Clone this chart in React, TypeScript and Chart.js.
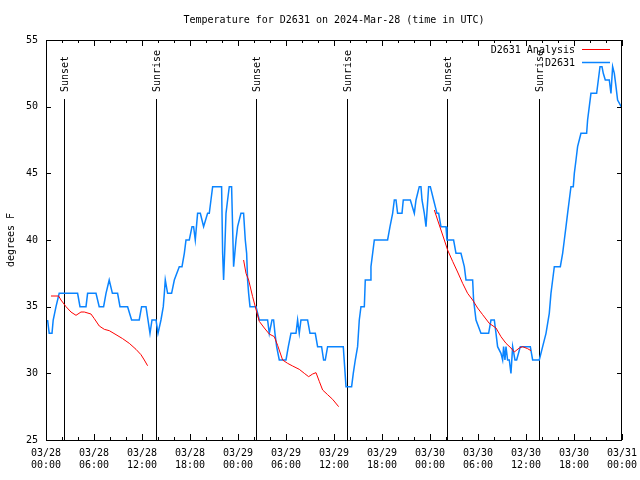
import React, { useEffect, useRef } from 'react';
import { Chart, registerables } from 'chart.js';

Chart.register(...registerables);

const FONT = "'DejaVu Sans Mono', monospace";

const TITLE = 'Temperature for D2631 on 2024-Mar-28 (time in UTC)';
const Y_TITLE = 'degrees F';
const START_DAY = 28;

const seriesNames = ['D2631 Analysis', 'D2631'];
const seriesColors = ['#ff0000', '#0a84ff'];

// hours since 03/28 00:00 UTC
const eventHours = [2.25, 13.75, 26.25, 37.625, 50.125, 61.625];
const eventLabels = ['Sunset', 'Sunrise', 'Sunset', 'Sunrise', 'Sunset', 'Sunrise'];

const stationHours = [
  0.2, 0.4, 0.75, 0.9, 1.25, 1.65, 3.95, 4.25, 5.0, 5.2, 6.25, 6.65, 7.2, 7.5, 7.9, 8.3, 8.95, 9.25, 10.2, 10.7,
  11.65, 11.95, 12.5, 13.0, 13.25, 13.75, 14.0, 14.37, 14.66, 14.79, 14.91, 15.2, 15.7, 16.04, 16.66, 17.0, 17.29,
  17.5, 17.91, 18.25, 18.45, 18.66, 18.95, 19.29, 19.7, 20.2, 20.41, 20.62, 20.83, 21.95, 22.08, 22.2, 22.33, 22.5,
  22.7, 22.91, 23.2, 23.45, 23.6, 23.75, 23.95, 24.37, 24.7, 24.91, 25.08, 25.2, 25.33, 25.5, 26.25, 26.66, 27.7,
  27.91, 28.25, 28.45, 28.62, 28.83, 29.16, 30.0, 30.29, 30.62, 31.25, 31.45, 31.66, 31.87, 32.7, 33.0, 33.66,
  33.95, 34.45, 34.7, 34.91, 35.2, 37.16, 37.5, 38.2, 38.41, 38.66, 38.95, 39.16, 39.37, 39.79, 39.91, 40.5, 40.62,
  40.83, 41.04, 42.7, 43.0, 43.33, 43.54, 43.75, 43.95, 44.5, 44.66, 45.54, 46.04, 46.25, 46.66, 46.87, 47.0, 47.29,
  47.5, 47.83, 48.04, 48.45, 48.87, 49.08, 49.37, 50.0, 50.12, 50.95, 51.25, 51.87, 52.29, 52.5, 53.33, 53.45,
  53.75, 54.37, 55.33, 55.62, 56.04, 56.25, 56.45, 56.87, 57.08, 57.2, 57.37, 57.5, 57.7, 57.91, 58.12, 58.33,
  58.62, 58.83, 59.29, 60.54, 60.83, 61.66, 62.08, 62.5, 62.91, 63.12, 63.33, 63.54, 64.29, 64.58, 64.79, 65.0,
  65.2, 65.41, 65.62, 65.91, 66.04, 66.25, 66.45, 66.87, 67.58, 67.7, 67.91, 68.12, 68.83, 69.04, 69.25, 69.5,
  69.66, 69.91, 70.41, 70.62, 70.83, 71.04, 71.25, 71.45, 71.9,
];
const stationTemps = [
  34, 33, 33, 34, 35, 36, 36, 35, 35, 36, 36, 35, 35, 36, 37, 36, 36, 35, 35, 34,
  34, 35, 35, 33, 34, 34, 33, 34, 35, 36, 37, 36, 36, 37, 38, 38, 39,
  40, 40, 41, 41, 40, 42, 42, 41, 42, 42, 43, 44, 44, 39, 37, 39, 42,
  43, 44, 44, 38, 39, 40, 41, 42, 42, 40, 39, 37, 36, 35, 35, 34, 34,
  33, 34, 34, 33, 32, 31, 31, 32, 33, 33, 34, 33, 34, 34, 33, 33,
  32, 32, 31, 31, 32, 32, 29, 29, 30, 31, 32, 34, 35, 35, 37, 37, 38,
  39, 40, 40, 41, 42, 43, 43, 42, 42, 43, 43, 42, 43, 44, 44, 43, 42,
  41, 44, 44, 43, 42, 42, 41, 41, 40, 40, 39, 39, 38, 37, 37, 35.5,
  34, 33, 33, 34, 34, 33, 32, 31.5, 31, 32, 31, 32, 31, 31, 30, 32,
  31, 31, 32, 32, 31, 31, 32, 33, 34.5, 36, 37, 38, 38, 39, 40, 41,
  42, 43, 44, 44, 45, 46, 47, 48, 48, 49, 50, 51, 51, 52, 53, 53,
  52.5, 52, 52, 51, 53, 52.5, 51.5, 50.5, 50,
];

const analysisHours = [
  0.62, 1.58, 1.87, 2.5, 3.12, 3.75, 4.37, 4.79, 5.62, 6.04, 6.66, 7.29, 7.91, 8.75, 9.58, 10.41, 11.25, 11.87, 12.29, 12.7,
  18,
  24.7, 25.0, 25.33, 25.83, 26.16, 26.66, 27.29, 27.91, 28.54, 28.95, 29.58, 30.2, 30.83, 31.66, 32.29, 32.83, 33.33,
  33.75, 34.16, 34.58, 35.2, 35.83, 36.58,
  42,
  48.54, 48.95, 49.37, 49.79, 50.2, 50.83, 51.45, 52.08, 52.7, 53.33, 53.95, 54.58, 55.41, 56.25, 56.87, 57.5, 58.12,
  58.54, 59.16, 59.58, 60.2, 60.62,
];
const analysisTemps: (number | null)[] = [
  35.8, 35.8, 35.5, 35.0, 34.6, 34.35, 34.6, 34.6, 34.45, 34.1, 33.55, 33.3, 33.2, 32.9, 32.6, 32.25, 31.8, 31.4, 31.0, 30.57,
  null,
  38.5, 37.5, 37.0, 35.75, 35.0, 33.9, 33.4, 32.95, 32.75, 32.1, 31.0, 30.75, 30.55, 30.3, 30.0, 29.75, 29.95,
  30.05, 29.4, 28.75, 28.4, 28.05, 27.5,
  null,
  42.25, 41.5, 40.75, 40.0, 39.25, 38.4, 37.6, 36.75, 36.0, 35.5, 34.9, 34.4, 33.75, 33.4, 32.75, 32.25, 31.9,
  31.6, 31.9, 32.0, 31.85, 31.7,
];

const X_MIN = 0;
const X_MAX = 72;
const X_MAJOR = 6;
const X_MINOR = 2;
const Y_MIN = 25;
const Y_MAX = 55;
const Y_STEP = 5;

function tickLabel(v: number): string[] {
  const day = START_DAY + Math.floor(v / 24);
  const hr = Math.round(v % 24);
  return ['03/' + String(day).padStart(2, '0'), String(hr).padStart(2, '0') + ':00'];
}

const decorPlugin = {
  id: 'gnuDecor',
  beforeDatasetsDraw(chart: any) {
    const { ctx, chartArea: a, scales } = chart;
    const xs = scales.x;
    ctx.save();
    ctx.strokeStyle = '#000';
    ctx.lineWidth = 1;
    ctx.beginPath();
    eventHours.forEach((h) => {
      const px = Math.round(xs.getPixelForValue(h)) + 0.5;
      ctx.moveTo(px, 99);
      ctx.lineTo(px, a.bottom);
    });
    ctx.stroke();
    ctx.fillStyle = '#000';
    ctx.font = '10px ' + FONT;
    ctx.textAlign = 'left';
    ctx.textBaseline = 'middle';
    eventHours.forEach((h, i) => {
      const px = Math.round(xs.getPixelForValue(h)) + 0.5;
      ctx.save();
      ctx.translate(px + 0.5, 92);
      ctx.rotate(-Math.PI / 2);
      ctx.fillText(eventLabels[i], 0, 0);
      ctx.restore();
    });
    ctx.restore();
  },
  afterDatasetsDraw(chart: any) {
    const { ctx, chartArea: a, scales } = chart;
    const xs = scales.x;
    const ys = scales.y;
    ctx.save();
    ctx.strokeStyle = '#000';
    ctx.lineWidth = 1;
    ctx.beginPath();
    for (let h = X_MIN; h <= X_MAX; h += X_MINOR) {
      const px = Math.round(xs.getPixelForValue(h)) + 0.5;
      const len = h % X_MAJOR === 0 ? 6 : 3;
      ctx.moveTo(px, a.bottom);
      ctx.lineTo(px, a.bottom - len);
      ctx.moveTo(px, a.top);
      ctx.lineTo(px, a.top + len);
    }
    for (let t = Y_MIN; t <= Y_MAX; t += Y_STEP) {
      const py = Math.round(ys.getPixelForValue(t)) + 0.5;
      ctx.moveTo(a.left, py);
      ctx.lineTo(a.left + 5, py);
      ctx.moveTo(a.right, py);
      ctx.lineTo(a.right - 5, py);
    }
    ctx.stroke();
    ctx.strokeRect(a.left + 0.5, a.top + 0.5, a.right - a.left - 1, a.bottom - a.top);

    // legend
    ctx.font = '10px ' + FONT;
    ctx.textAlign = 'right';
    ctx.textBaseline = 'middle';
    ctx.fillStyle = '#000';
    seriesNames.forEach((name, i) => {
      const y = 50 + i * 13;
      ctx.fillText(name, 575, y);
      ctx.strokeStyle = seriesColors[i];
      ctx.lineWidth = i === 1 ? 1.5 : 1;
      ctx.beginPath();
      ctx.moveTo(582, y - 0.5);
      ctx.lineTo(610, y - 0.5);
      ctx.stroke();
    });
    ctx.restore();
  },
};

export default function App() {
  const ref = useRef<HTMLCanvasElement>(null);
  useEffect(() => {
    if (!ref.current) return;
    const stationData = stationHours.map((h, i) => ({ x: h, y: stationTemps[i] }));
    const analysisData = analysisHours.map((h, i) => ({ x: h, y: analysisTemps[i] }));
    const chart = new Chart(ref.current, {
      type: 'line',
      data: {
        datasets: [
          {
            label: seriesNames[0],
            data: analysisData as any,
            borderColor: seriesColors[0],
            borderWidth: 1,
            pointRadius: 0,
            tension: 0,
            spanGaps: false,
          },
          {
            label: seriesNames[1],
            data: stationData,
            borderColor: seriesColors[1],
            borderWidth: 1.5,
            pointRadius: 0,
            tension: 0,
          },
        ],
      },
      options: {
        responsive: false,
        animation: false,
        devicePixelRatio: 1,
        layout: { padding: { left: 0, right: 18, top: 0, bottom: 0 } },
        plugins: {
          legend: { display: false },
          tooltip: { enabled: false },
          title: {
            display: true,
            text: TITLE,
            color: '#000',
            fullSize: false,
            font: { family: FONT, size: 10, weight: 'normal', lineHeight: 1.2 },
            padding: { top: 14, bottom: 14 },
          },
        },
        scales: {
          x: {
            type: 'linear',
            min: X_MIN,
            max: X_MAX,
            grid: { display: false, drawTicks: false },
            border: { display: false },
            ticks: {
              stepSize: X_MAJOR,
              autoSkip: false,
              maxRotation: 0,
              padding: 7,
              color: '#000',
              font: { family: FONT, size: 10, lineHeight: 1.2 },
              callback: (v: any) => tickLabel(Number(v)),
            },
            afterFit: (s: any) => {
              s.height = 40;
              s.paddingLeft = 0;
              s.paddingRight = 0;
            },
          },
          y: {
            type: 'linear',
            min: Y_MIN,
            max: Y_MAX,
            grid: { display: false, drawTicks: false },
            border: { display: false },
            ticks: {
              stepSize: Y_STEP,
              padding: 8,
              color: '#000',
              font: { family: FONT, size: 10 },
            },
            title: {
              display: true,
              text: Y_TITLE,
              color: '#000',
              font: { family: FONT, size: 10, lineHeight: 1.2 },
              padding: { top: 5, bottom: 0 },
            },
            afterFit: (s: any) => {
              s.width = 46;
              s.paddingTop = 0;
              s.paddingBottom = 0;
            },
          },
        },
      } as any,
      plugins: [decorPlugin],
    });
    return () => chart.destroy();
  }, []);
  return (
    <div style={{ position: 'absolute', left: 0, top: 0, width: 640, height: 480, background: '#fff' }}>
      <canvas ref={ref} width={640} height={480} style={{ display: 'block' }} />
    </div>
  );
}
